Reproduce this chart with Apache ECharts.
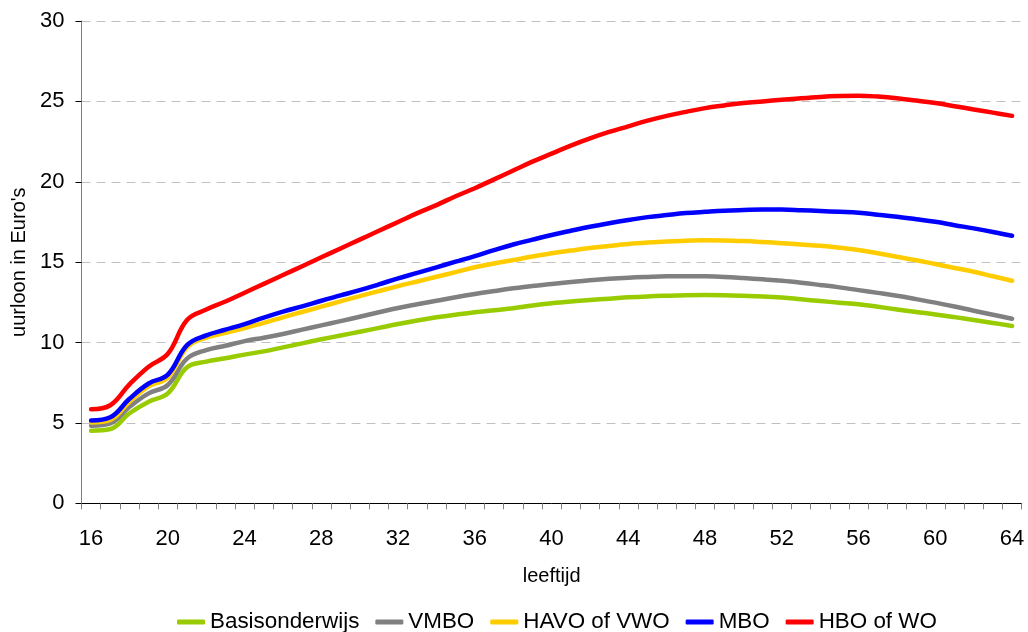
<!DOCTYPE html>
<html>
<head>
<meta charset="utf-8">
<script src="https://cdn.jsdelivr.net/npm/echarts@6/dist/echarts.min.js"></script>
<style>
  html, body { margin: 0; padding: 0; background: #fff; }
  #chart { width: 1028px; height: 632px; }
</style>
</head>
<body>
<div id="chart"></div>
<script>
// Leeftijd (jaren)
const ages = [];
for (let a = 16; a <= 64; a++) ages.push(String(a));

// Uurloon in euro's per opleidingsniveau, per leeftijd 16..64
const basisonderwijs = [
  4.52, 4.62, 5.60, 6.32, 6.84, 8.46, 8.81, 9.02, 9.25, 9.45,
  9.70, 9.95, 10.20, 10.44, 10.67, 10.91, 11.15, 11.37, 11.57, 11.73,
  11.88, 12.01, 12.13, 12.30, 12.44, 12.55, 12.64, 12.73, 12.81, 12.87,
  12.91, 12.94, 12.95, 12.94, 12.91, 12.87, 12.80, 12.69, 12.58, 12.48,
  12.38, 12.22, 12.06, 11.90, 11.75, 11.58, 11.40, 11.22, 11.03
];
const vmbo = [
  4.83, 4.97, 6.00, 6.84, 7.36, 9.00, 9.53, 9.80, 10.09, 10.30,
  10.53, 10.80, 11.07, 11.33, 11.60, 11.88, 12.15, 12.38, 12.60, 12.82,
  13.02, 13.20, 13.37, 13.52, 13.64, 13.76, 13.87, 13.96, 14.03, 14.08,
  14.12, 14.13, 14.12, 14.08, 14.01, 13.93, 13.84, 13.72, 13.58, 13.43,
  13.26, 13.09, 12.91, 12.70, 12.48, 12.24, 11.98, 11.73, 11.48
];
const havoVwo = [
  5.02, 5.18, 6.32, 7.27, 7.82, 9.70, 10.30, 10.60, 10.90, 11.22,
  11.57, 11.90, 12.23, 12.56, 12.89, 13.20, 13.51, 13.80, 14.09, 14.38,
  14.68, 14.92, 15.13, 15.35, 15.55, 15.72, 15.88, 16.01, 16.13, 16.22,
  16.29, 16.33, 16.36, 16.35, 16.31, 16.25, 16.18, 16.10, 16.02, 15.90,
  15.75, 15.55, 15.34, 15.12, 14.88, 14.64, 14.40, 14.12, 13.84
];
const mbo = [
  5.15, 5.35, 6.50, 7.45, 8.00, 9.84, 10.45, 10.80, 11.15, 11.55,
  11.92, 12.25, 12.60, 12.93, 13.26, 13.62, 13.99, 14.33, 14.68, 15.03,
  15.38, 15.75, 16.10, 16.40, 16.69, 16.95, 17.20, 17.42, 17.62, 17.80,
  17.93, 18.05, 18.13, 18.20, 18.24, 18.27, 18.27, 18.23, 18.18, 18.13,
  18.07, 17.95, 17.82, 17.67, 17.51, 17.30, 17.10, 16.88, 16.64
];
const hboWo = [
  5.85, 6.10, 7.40, 8.50, 9.30, 11.40, 12.05, 12.55, 13.10, 13.65,
  14.20, 14.75, 15.30, 15.85, 16.40, 16.95, 17.50, 18.05, 18.55, 19.10,
  19.60, 20.15, 20.70, 21.25, 21.75, 22.25, 22.70, 23.10, 23.45, 23.80,
  24.10, 24.35, 24.58, 24.75, 24.90, 25.00, 25.10, 25.20, 25.28, 25.33,
  25.35, 25.30, 25.20, 25.05, 24.90, 24.70, 24.50, 24.30, 24.10
];

const seriesNames = ['Basisonderwijs', 'VMBO', 'HAVO of VWO', 'MBO', 'HBO of WO'];
const seriesData = [basisonderwijs, vmbo, havoVwo, mbo, hboWo];
const seriesColors = ['#99cc00', '#808080', '#ffcc00', '#0000ff', '#ff0000'];

const FONT = '"Liberation Sans", Arial, sans-serif';

const chart = echarts.init(document.getElementById('chart'), null, { renderer: 'canvas' });

chart.setOption({
  animation: false,
  backgroundColor: '#ffffff',
  textStyle: { fontFamily: FONT, color: '#000' },
  grid: { left: 81.5, right: 6.3, top: 21, bottom: 128.7, containLabel: false },
  legend: {
    data: seriesNames,
    left: 172,
    top: 606,
    icon: 'roundRect',
    itemWidth: 28,
    itemHeight: 5,
    itemGap: 16,
    textStyle: { fontFamily: FONT, fontSize: 22.4, color: '#000' }
  },
  xAxis: {
    type: 'category',
    data: ages,
    boundaryGap: true,
    name: 'leeftijd',
    nameLocation: 'middle',
    nameGap: 63,
    nameTextStyle: { fontFamily: FONT, fontSize: 20, color: '#000' },
    axisLine: { show: true, lineStyle: { color: '#000', width: 1 } },
    axisTick: { show: true, interval: 0, length: 6, lineStyle: { color: '#808080', width: 1 } },
    axisLabel: { interval: 3, fontFamily: FONT, fontSize: 22, color: '#000', margin: 25 },
    splitLine: { show: false }
  },
  yAxis: {
    type: 'value',
    min: 0,
    max: 30,
    interval: 5,
    name: "uurloon in Euro's",
    nameLocation: 'middle',
    nameGap: 52,
    nameTextStyle: { fontFamily: FONT, fontSize: 20, color: '#000' },
    axisLine: { show: true, lineStyle: { color: '#808080', width: 1 } },
    axisTick: { show: true, length: 6, lineStyle: { color: '#000', width: 1 } },
    axisLabel: { fontFamily: FONT, fontSize: 22, color: '#000', margin: 17 },
    splitLine: { show: true, lineStyle: { color: '#c0c0c0', width: 1, type: [9, 6] } }
  },
  series: seriesNames.map((name, i) => ({
    name: name,
    type: 'line',
    data: seriesData[i],
    smooth: 0.4,
    symbol: 'none',
    color: seriesColors[i],
    lineStyle: { color: seriesColors[i], width: 4.5, cap: 'round', join: 'round' },
    itemStyle: { color: seriesColors[i] }
  }))
});
</script>
</body>
</html>
